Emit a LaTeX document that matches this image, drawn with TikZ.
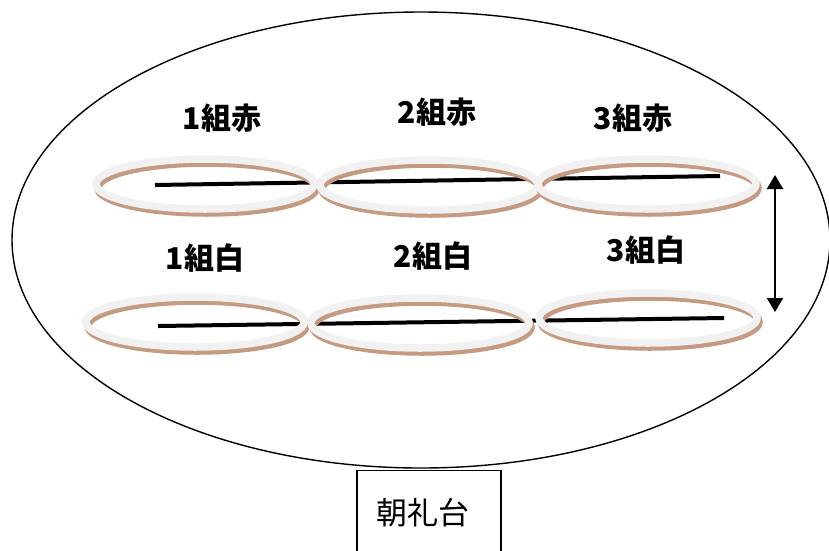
\documentclass[tikz,border=0pt]{standalone}
\usepackage{fontspec}
\newfontfamily\jp{Noto Sans CJK JP}
\newfontfamily\jpheavy{Noto Sans CJK JP Black}
\usepackage{tikz}
\usetikzlibrary{arrows.meta,positioning,calc}
\definecolor{ringwhite}{HTML}{F1F1F1}
\definecolor{ringbrown}{HTML}{C49A80}
\tikzset{
    ringband/.style={draw=ringwhite, line width=7.5pt},
    ringshadow/.style={draw=ringbrown, line width=7.5pt},
    rowline/.style={line width=4pt, line cap=butt},
    classlabel/.style={font=\jpheavy\fontsize{30}{30}\selectfont},
    stagebox/.style={draw, line width=1.1pt, minimum width=144pt, minimum height=82pt, anchor=north, font=\jp\fontsize{31}{31}\selectfont, text depth=0pt}
}

\begin{document}
\begin{tikzpicture}[x=1pt, y=-1pt]
    \useasboundingbox (0,0) rectangle (829,550);
    % ground
    \draw[line width=1.4pt] (421,240) ellipse [x radius=409pt, y radius=228pt];
    % lines through each row
    \coordinate (redL) at (155,185);
    \coordinate (redR) at (720,176);
    \coordinate (whiteL) at (158,326);
    \coordinate (whiteR) at (724,318);
    \draw[rowline] (redL) -- (redR);
    \draw[rowline] (whiteL) -- (whiteR);
    % rings
    \foreach \cx/\cy in {205/184, 429/185, 647/184, 195/322, 420/323, 648/318} {
        \draw[ringshadow] (\cx+2,\cy+4) ellipse [x radius=109pt, y radius=25pt];
        \draw[ringband] (\cx,\cy) ellipse [x radius=109pt, y radius=25pt];
    }
    % labels
    \node[classlabel] (red1) at (222,118) {1組赤};
    \node[classlabel] (red2) at (437,112) {2組赤};
    \node[classlabel] (red3) at (633,118) {3組赤};
    \node[classlabel] (white1) at (205,258) {1組白};
    \node[classlabel] (white2) at (433,256) {2組白};
    \node[classlabel] (white3) at (646,250) {3組白};
    % distance arrow
    \coordinate (arrTop) at (775,175);
    \coordinate (arrBot) at (775,312);
    \draw[line width=2pt, {Triangle[width=16pt,length=14pt]}-{Triangle[width=16pt,length=14pt]}] (arrTop) -- (arrBot);
    % stage
    \node[stagebox] (stage) at (429,470) {\hspace*{-12pt}朝礼台};
\end{tikzpicture}
\end{document}
